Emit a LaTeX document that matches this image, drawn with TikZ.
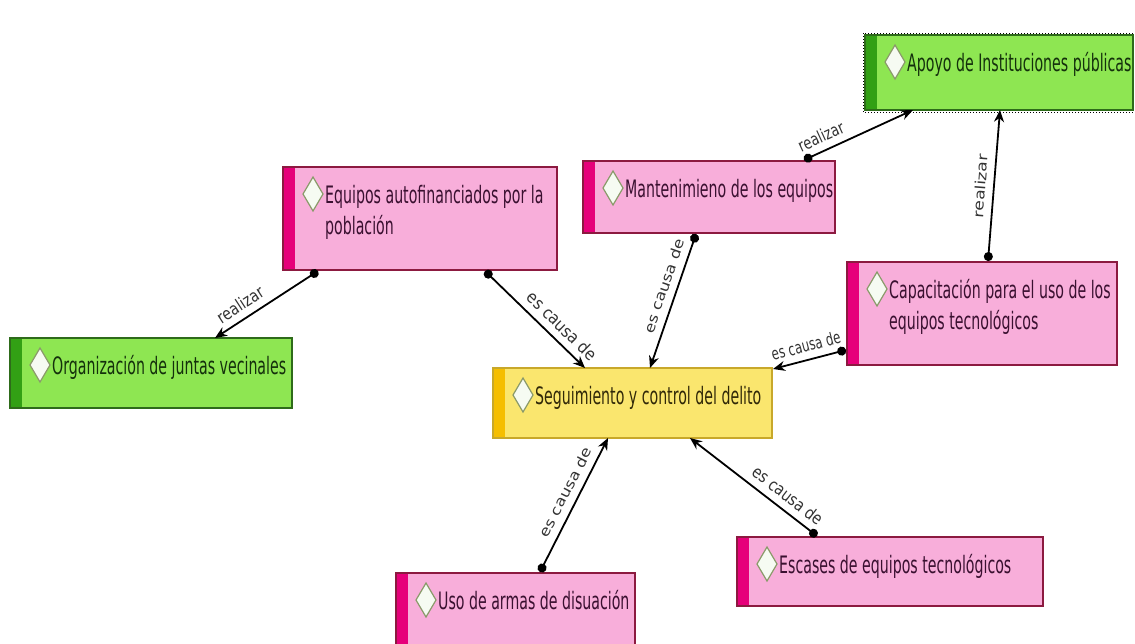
\documentclass[tikz,border=0pt]{standalone}
\usepackage{fontspec}
\setmainfont{DejaVu Sans}[FakeStretch=0.59]
\newfontfamily\lblA{DejaVu Sans}[FakeStretch=0.70]
\newfontfamily\lblB{DejaVu Sans}[FakeStretch=0.77]
\newfontfamily\lblC{DejaVu Sans}[FakeStretch=0.83]
\newfontfamily\lblD{DejaVu Sans}[FakeStretch=0.89]
\newfontfamily\lblE{DejaVu Sans}[FakeStretch=1.18]
\newfontfamily\lblF{DejaVu Sans}[FakeStretch=1.22]
\usetikzlibrary{arrows.meta,calc}
\definecolor{pinkfill}{HTML}{F8AEDA}
\definecolor{pinkline}{HTML}{8C1A40}
\definecolor{pinkstripe}{HTML}{E6007A}
\definecolor{pinktext}{HTML}{3A1030}
\definecolor{greenfill}{HTML}{8EE652}
\definecolor{greenline}{HTML}{2E6B1A}
\definecolor{greenstripe}{HTML}{32A014}
\definecolor{greentext}{HTML}{14300C}
\definecolor{yellowfill}{HTML}{FAE66E}
\definecolor{yellowline}{HTML}{C8A82A}
\definecolor{yellowstripe}{HTML}{F5BE00}
\definecolor{yellowtext}{HTML}{302808}
\definecolor{diamline}{HTML}{8A9A6A}
\definecolor{diamfill}{HTML}{F6FBF2}
\tikzset{
  cbox/.style 2 args={rectangle, inner sep=0pt, outer sep=0pt, fill=#1fill, draw=#1line, line width=1.2pt,
    minimum width=#2,
    path picture={\fill[#1stripe] (path picture bounding box.north west) rectangle ([xshift=12pt]path picture bounding box.south west);}},
  btxt/.style={anchor=base west, inner sep=0pt, font=\fontsize{24}{31}\selectfont},
  diam/.style={draw=diamline, fill=diamfill, line width=1.2pt, line join=miter},
  conn/.style={line width=1.8pt, {Circle[length=9pt]}-{Stealth[length=12pt,width=10pt]}},
  lbl/.style={sloped, above=3pt, inner sep=4pt, text=black!80, font=#1\fontsize{17}{19}\selectfont},
  lblv/.style={sloped, above=3pt, inner sep=4pt, text=black!80, font=#1\fontsize{14}{16}\selectfont}
}
\newcommand\cmapbox[6]{%
  \node[cbox={#2}{#4pt}, minimum height=#5pt] (#1) at (#3) {};
  \draw[diam] ([xshift=30pt,yshift=-10pt]#1.north west) -- ++(10,17) -- ++(-10,17) -- ++(-10,-17) -- cycle;
  \node[btxt, text=#2text] (#1-t) at ([xshift=42pt,yshift=-36pt]#1.north west) {#6};
}
\begin{document}
\begin{tikzpicture}[x=1pt,y=-1pt]
\useasboundingbox (0,0) rectangle (1135,643);
\cmapbox{apoyo}{green}{999,72.5}{268}{75}{Apoyo de Instituciones públicas}
\draw[dotted, line width=1pt] ([shift={(-2pt,2pt)}]apoyo.north west) rectangle ([shift={(2pt,-2pt)}]apoyo.south east);
\cmapbox{equipos}{pink}{420,218.5}{274}{103}{\vtop{\hbox{Equipos autofinanciados por la}\hbox{población}}}
\cmapbox{mant}{pink}{709,197}{252}{72}{Mantenimieno de los equipos}
\cmapbox{capac}{pink}{982,313.5}{270}{103}{\vtop{\hbox{Capacitación para el uso de los}\hbox{equipos tecnológicos}}}
\cmapbox{org}{green}{151,373}{282}{70}{Organización de juntas vecinales}
\cmapbox{seg}{yellow}{632.5,403}{279}{70}{Seguimiento y control del delito}
\cmapbox{uso}{pink}{515.5,609}{239}{72}{Uso de armas de disuación}
\cmapbox{escases}{pink}{890,571.5}{306}{69}{Escases de equipos tecnológicos}

\draw[conn] ([xshift=-102pt,yshift=-1pt]equipos.south) -- node[lbl=\lblC, pos=0.68]{realizar} ([xshift=64pt]org.north);
\draw[conn] ([xshift=65pt,yshift=-1pt]equipos.south) -- node[lbl=\lblD, pos=0.67]{es causa de} ([xshift=-47.5pt]seg.north);
\draw[conn] ([xshift=-13pt,yshift=-1pt]mant.south) -- node[lblv=\lblE, pos=0.42]{es causa de} ([xshift=17.5pt]seg.north);
\draw[conn] ([xshift=95pt,yshift=1pt]mant.north) -- node[lbl=\lblB, pos=0.21]{realizar} ([xshift=-86pt]apoyo.south);
\draw[conn] ([xshift=6pt,yshift=1pt]capac.north) -- node[lblv=\lblF, pos=0.49]{realizar} ([xshift=1pt]apoyo.south);
\draw[conn] ([xshift=-1pt,yshift=-36.5pt]capac.west) -- node[lbl=\lblA, pos=0.5]{es causa de} ([xshift=1pt,yshift=-1pt]seg.north east);
\draw[conn] ([xshift=24.5pt,yshift=1pt]uso.north) -- node[lblv=\lblE, pos=0.55]{es causa de} ([xshift=-24.5pt]seg.south);
\draw[conn] ([xshift=-73pt,yshift=1pt]escases.north) -- node[lbl=\lblC, pos=0.3]{es causa de} ([xshift=57.5pt]seg.south);
\end{tikzpicture}
\end{document}
